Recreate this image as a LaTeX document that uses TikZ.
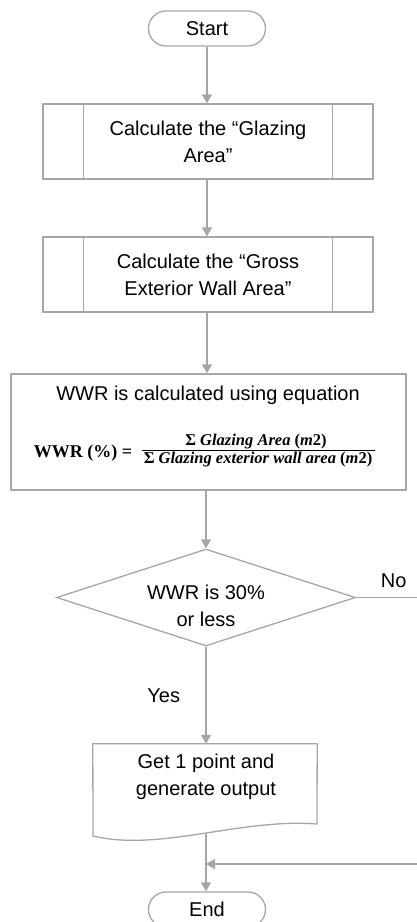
\documentclass[tikz,border=0pt]{standalone}
\usepackage{fontspec}
\setmainfont{Liberation Sans}
\newfontfamily\eqfont{Liberation Serif}
\usetikzlibrary{arrows.meta,shapes.geometric}
\definecolor{linegray}{HTML}{A6A6A6}
\begin{document}
\begin{tikzpicture}[x=1pt,y=-1pt,
  every node/.style={font=\fontsize{20}{27}\selectfont, text=black, align=center},
  shapeline/.style={draw=linegray, line width=1.3pt},
  term/.style={shapeline, rounded corners=17.5pt, minimum width=117pt, minimum height=35pt, inner sep=0pt},
  procbox/.style={shapeline, minimum width=330pt, minimum height=75pt, inner sep=0pt},
  conn/.style={draw=linegray, line width=1.3pt, -{Triangle[width=10pt,length=9pt,fill=linegray]}},
  eqlhs/.style={font=\eqfont\bfseries\fontsize{18}{20}\selectfont},
  eqfrac/.style={font=\eqfont\bfseries\itshape\fontsize{16.5}{18}\selectfont, anchor=base, inner sep=0pt}
]
\useasboundingbox (0,0) rectangle (417,922);

% Start
\node[term] (start) at (207,28.5) {Start};

% Predefined processes
\node[procbox] (box1) at (208,141.5) {Calculate the “Glazing\\Area”};
\draw[shapeline] ([xshift=41pt]box1.north west) -- ([xshift=41pt]box1.south west);
\draw[shapeline] ([xshift=-41pt]box1.north east) -- ([xshift=-41pt]box1.south east);

\node[procbox] (box2) at (208,274.5) {Calculate the “Gross\\Exterior Wall Area”};
\draw[shapeline] ([xshift=41pt]box2.north west) -- ([xshift=41pt]box2.south west);
\draw[shapeline] ([xshift=-41pt]box2.north east) -- ([xshift=-41pt]box2.south east);

% Process with equation
\node[shapeline, minimum width=395pt, minimum height=116pt, inner sep=0pt] (box3) at (208.5,432) {};
\node (head) at (208,395) {WWR is calculated using equation};
\node[eqlhs, anchor=base] (lhs) at (83,457) {WWR (\%) =};
\node[eqfrac] (num) at (256,445) {{\upshape Σ} Glazing Area {\upshape(}m{\upshape 2)}};
\node[eqfrac] (den) at (258,463) {{\upshape Σ} Glazing exterior wall area {\upshape(}m{\upshape 2)}};
\draw[black, line width=0.8pt] (142,450) -- (375,450);

% Decision
\node[diamond, shapeline, minimum width=299pt, minimum height=97pt, inner sep=0pt] (dia) at (206,597.5) {};
\node (diatext) at (206,606) {WWR is 30\%\\or less};

% Document
\node[minimum width=224pt, minimum height=80pt, inner sep=0pt] (doc) at (205,784) {};
\draw[shapeline] (doc.north west) -- (doc.north east) -- (317,824)
  .. controls (240,818) and (160,852) .. (93,836) -- cycle;
\node (doctext) at (206,777) {Get 1 point and\\generate output};
\coordinate (docb) at (206,834);

% End
\node[term] (stop) at (207,909.5) {End};

% Connectors
\draw[conn] (start.south) -- (start.south |- box1.north);
\draw[conn] (box1.south -| start.south) -- (start.south |- box2.north);
\draw[conn] (box2.south -| start.south) -- (start.south |- box3.north);
\draw[conn] (dia.north |- box3.south) -- (dia.north);
\draw[conn] (dia.south) -- (dia.south |- doc.north) node[midway, left=22pt] (yes) {Yes};
\draw[conn] (docb) -- (docb |- stop.north);
\coordinate (join) at (206,864);
\draw[conn] (dia.east) -- ++(75,0) node[pos=0.5, above=6pt] (no) {No} |- (join);
\end{tikzpicture}
\end{document}
